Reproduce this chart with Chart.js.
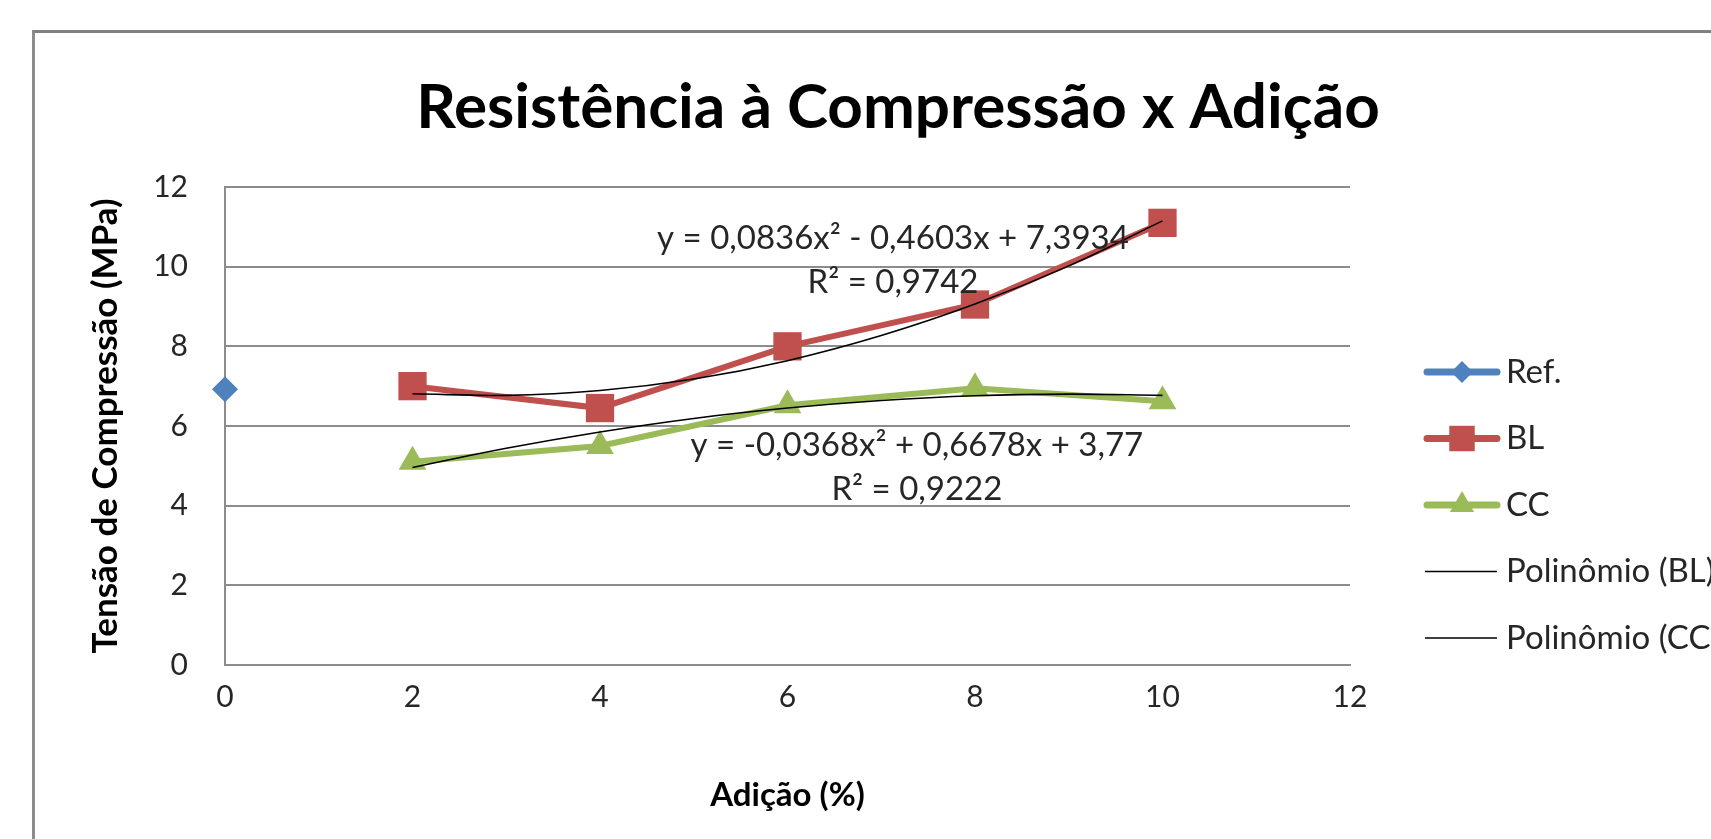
<!DOCTYPE html>
<html><head><meta charset="utf-8">
<script src="https://cdn.jsdelivr.net/npm/chart.js@4.4.1/dist/chart.umd.min.js"></script>
<style>
html,body{margin:0;padding:0;background:#fff;overflow:hidden;width:1711px;height:839px;}
#frame{position:absolute;left:32px;top:30px;width:2000px;height:2000px;border-left:3px solid #8c8c8c;border-top:3px solid #808080;box-sizing:border-box;}
#c{position:absolute;left:0;top:0;}
</style></head><body>
<div id="frame"></div>
<canvas id="c" width="1711" height="839"></canvas>
<script>
// ---- data ----
const seriesNames = ['Ref.', 'BL', 'CC', 'Polinômio (BL)', 'Polinômio (CC)'];
const refX = [0];
const refY = [6.92];
const addX = [2, 4, 6, 8, 10];
const blY = [7.0, 6.45, 8.0, 9.05, 11.1];
const ccY = [5.1, 5.5, 6.52, 6.95, 6.62];
const trendX = [2, 3, 4, 5, 6, 7, 8, 9, 10];
const blTrendY = [6.81, 6.77, 6.89, 7.18, 7.64, 8.27, 9.06, 10.02, 11.15];
const ccTrendY = [4.96, 5.44, 5.85, 6.19, 6.45, 6.64, 6.76, 6.80, 6.77];
const xTicks = [0, 2, 4, 6, 8, 10, 12];
const yTicks = [0, 2, 4, 6, 8, 10, 12];
const titleText = 'Resistência à Compressão x Adição';
const xTitle = 'Adição (%)';
const yTitle = 'Tensão de Compressão (MPa)';
const blEquation = ['y = 0,0836x² - 0,4603x + 7,3934', 'R² = 0,9742'];
const ccEquation = ['y = -0,0368x² + 0,6678x + 3,77', 'R² = 0,9222'];

// ---- styling ----
const FONT = 'Lato';
const C_REF = '#4F81BD', C_BL = '#C0504D', C_CC = '#9BBB59', C_TR = '#000000';
const GRID = '#8c8c8c', TXT = '#262626';

const pts = (xs, ys) => xs.map((x, i) => ({x: x, y: ys[i]}));

const datasets = [
  {label: seriesNames[0], data: pts(refX, refY), borderColor: C_REF, backgroundColor: C_REF,
   pointStyle: 'rectRot', pointRadius: 13, pointHoverRadius: 13, pointBorderWidth: 0, borderWidth: 6, showLine: true, order: 1, clip: false,
   legendRadius: 11, legendLine: 7},
  {label: seriesNames[1], data: pts(addX, blY), borderColor: C_BL, backgroundColor: C_BL,
   pointStyle: 'rect', pointRadius: 20, pointHoverRadius: 20, pointBorderWidth: 0, borderWidth: 6, showLine: true, order: 1, clip: false,
   legendRadius: 18, legendLine: 7},
  {label: seriesNames[2], data: pts(addX, ccY), borderColor: C_CC, backgroundColor: C_CC,
   pointStyle: 'triangle', pointRadius: 16, pointHoverRadius: 16, pointBorderWidth: 0, borderWidth: 6, showLine: true, order: 1, clip: false,
   legendRadius: 14, legendLine: 7},
  {label: seriesNames[3], data: pts(trendX, blTrendY), borderColor: C_TR, backgroundColor: C_TR,
   pointRadius: 0, borderWidth: 1.6, showLine: true, tension: 0.4, order: 0, clip: false, legendLine: 1.6},
  {label: seriesNames[4], data: pts(trendX, ccTrendY), borderColor: C_TR, backgroundColor: C_TR,
   pointRadius: 0, borderWidth: 1.6, showLine: true, tension: 0.4, order: 0, clip: false, legendLine: 1.6}
];

const sideLegend = {
  id: 'sideLegend',
  afterDraw(chart) {
    const ctx = chart.ctx;
    const x0 = 1424, x1 = 1500, tx = 1506, y0 = 372, dy = 66.5;
    chart.data.datasets.forEach((ds, i) => {
      const y = y0 + i * dy;
      ctx.save();
      ctx.strokeStyle = ds.borderColor;
      ctx.lineWidth = ds.legendLine;
      ctx.lineCap = ds.pointRadius > 0 ? 'round' : 'butt';
      ctx.beginPath();
      ctx.moveTo(x0 + (ds.pointRadius > 0 ? 3 : 1), y);
      ctx.lineTo(x1 - 3, y);
      ctx.stroke();
      if (ds.pointRadius > 0) {
        ctx.fillStyle = ds.backgroundColor;
        Chart.helpers.drawPoint(ctx, {pointStyle: ds.pointStyle, radius: ds.legendRadius, borderWidth: 0, rotation: 0}, (x0 + x1) / 2, y);
      }
      ctx.fillStyle = TXT;
      ctx.font = '33px ' + FONT;
      ctx.textBaseline = 'middle';
      ctx.textAlign = 'left';
      ctx.fillText(ds.label, tx, y);
      ctx.restore();
    });
  }
};

const equationLabels = {
  id: 'equationLabels',
  afterDraw(chart) {
    const ctx = chart.ctx, xs = chart.scales.x, ys = chart.scales.y;
    const items = [
      {lines: blEquation, ax: 7.125, ay: 10.70},
      {lines: ccEquation, ax: 7.38, ay: 5.52}
    ];
    ctx.save();
    ctx.fillStyle = TXT;
    ctx.font = '33px ' + FONT;
    ctx.textAlign = 'center';
    ctx.textBaseline = 'middle';
    items.forEach(it => {
      const px = xs.getPixelForValue(it.ax), py = ys.getPixelForValue(it.ay);
      it.lines.forEach((t, k) => ctx.fillText(t, px, py + k * 44));
    });
    ctx.restore();
  }
};

const centerTitle = {
  id: 'centerTitle',
  afterLayout(chart) {
    const tb = chart.titleBlock;
    if (tb) { tb.left = 32; tb.right = 1764; tb.width = tb.right - tb.left; }
  }
};

new Chart(document.getElementById('c'), {
  type: 'scatter',
  data: {datasets: datasets},
  plugins: [centerTitle, sideLegend, equationLabels],
  options: {
    responsive: false,
    animation: false,
    devicePixelRatio: 1,
    layout: {padding: {left: 40, right: 361, top: 0, bottom: 0}},
    plugins: {
      legend: {display: false},
      tooltip: {enabled: false},
      title: {display: true, text: titleText, color: '#000',
        font: {family: FONT, size: 62, weight: 'bold', lineHeight: 1.2},
        padding: {top: 71, bottom: 41.6}}
    },
    scales: {
      x: {
        type: 'linear', min: 0, max: 12,
        afterBuildTicks: s => { s.ticks = xTicks.map(v => ({value: v})); },
        afterFit: s => { s.height = 839 - 665; },
        grid: {display: false, drawTicks: false},
        border: {display: true, color: GRID, width: 2},
        ticks: {color: TXT, font: {family: FONT, size: 30}, padding: 14, maxRotation: 0},
        title: {display: true, text: xTitle, color: '#000', font: {family: FONT, size: 33, weight: 'bold', lineHeight: 1.2}, padding: {top: 0, bottom: 24}}
      },
      y: {
        type: 'linear', min: 0, max: 12,
        afterBuildTicks: s => { s.ticks = yTicks.map(v => ({value: v})); },
        afterFit: s => { s.width = 225 - 40; },
        grid: {display: true, color: GRID, lineWidth: 2, drawTicks: false},
        border: {display: true, color: GRID, width: 2},
        ticks: {color: TXT, font: {family: FONT, size: 30}, padding: 37},
        title: {display: true, text: yTitle, color: '#000', font: {family: FONT, size: 35, weight: 'bold', lineHeight: 1.2}, padding: {top: 45, bottom: 0}}
      }
    }
  }
});
</script>
</body></html>
